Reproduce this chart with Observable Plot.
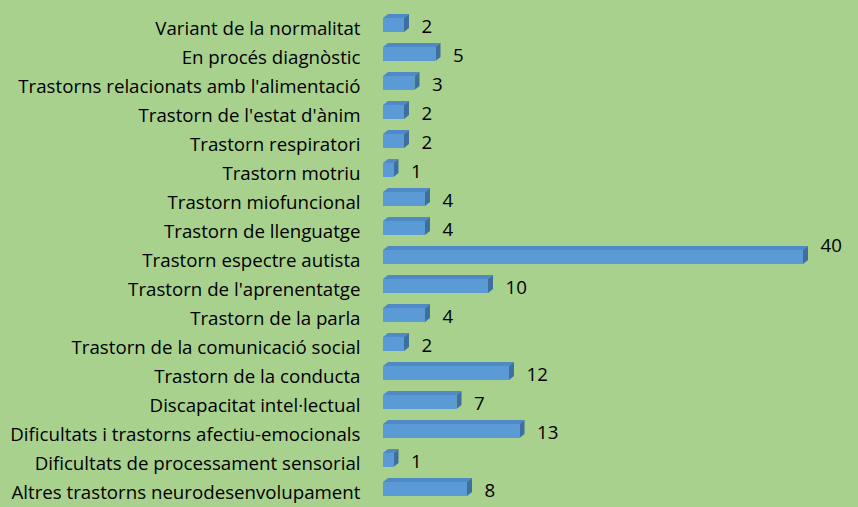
<!DOCTYPE html>
<html><head><meta charset="utf-8">
<script src="https://cdn.jsdelivr.net/npm/d3@7"></script>
<script src="https://cdn.jsdelivr.net/npm/@observablehq/plot@0.6"></script>
<style>
html,body{margin:0;padding:0;background:#a9d18e;}
</style></head>
<body><div id="chart"></div>
<script>
const categories = [
  "Variant de la normalitat",
  "En procés diagnòstic",
  "Trastorns relacionats amb l'alimentació",
  "Trastorn de l'estat d'ànim",
  "Trastorn respiratori",
  "Trastorn motriu",
  "Trastorn miofuncional",
  "Trastorn de llenguatge",
  "Trastorn espectre autista",
  "Trastorn de l'aprenentatge",
  "Trastorn de la parla",
  "Trastorn de la comunicació social",
  "Trastorn de la conducta",
  "Discapacitat intel·lectual",
  "Dificultats i trastorns afectiu-emocionals",
  "Dificultats de processament sensorial",
  "Altres trastorns neurodesenvolupament"
];
const values = [2, 5, 3, 2, 2, 1, 4, 4, 40, 10, 4, 2, 12, 7, 13, 1, 8];
const data = categories.map((c, i) => ({cat: c, value: values[i]}));
const maxValue = d3.max(values);

const DX = 5, DY = 4;
const chart = Plot.plot({
  width: 858,
  height: 507,
  marginLeft: 383,
  marginRight: 55,
  marginTop: 13,
  marginBottom: 7,
  style: {background: "#a9d18e", fontFamily: "'Open Sans', sans-serif", fontSize: "18.7px", color: "#000"},
  x: {domain: [0, 40], axis: null},
  y: {domain: categories, paddingInner: 0.53, paddingOuter: 0, axis: null},
  marks: [
    Plot.axisY({label: null, tickSize: 0, tickPadding: 23, fontSize: 18.7, fill: "#000", dy: 3.5}),
    Plot.barX(data, {x: "value", y: "cat", fill: "#5b9bd5"}),
    Plot.text(data.filter(d => d.value !== maxValue), {x: "value", y: "cat", text: d => String(d.value), dx: 17, dy: 1.5, textAnchor: "start", fill: "#000", fontSize: 18.7}),
    Plot.text(data.filter(d => d.value === maxValue), {x: "value", y: "cat", text: d => String(d.value), dx: 17, dy: -11, textAnchor: "start", fill: "#000", fontSize: 18.7})
  ]
});
document.getElementById("chart").appendChild(chart);

// 3D faces from the plot's own scales
const sx = chart.scale("x"), sy = chart.scale("y");
const bw = sy.bandwidth;
const svg = d3.select(chart);
const g = svg.insert("g", "g[aria-label='bar']");
data.forEach(d => {
  const x0 = sx.apply(0), x1 = sx.apply(d.value);
  const y0 = sy.apply(d.cat), y1 = y0 + bw;
  g.append("polygon")
    .attr("points", [[x0, y0], [x1, y0], [x1 + DX, y0 - DY], [x0 + DX, y0 - DY]].map(p => p.join(",")).join(" "))
    .attr("fill", "#4f89c6");
  g.append("polygon")
    .attr("points", [[x1, y0], [x1 + DX, y0 - DY], [x1 + DX, y1 - DY], [x1, y1]].map(p => p.join(",")).join(" "))
    .attr("fill", "#3f6f9f");
});
</script>
</body></html>
